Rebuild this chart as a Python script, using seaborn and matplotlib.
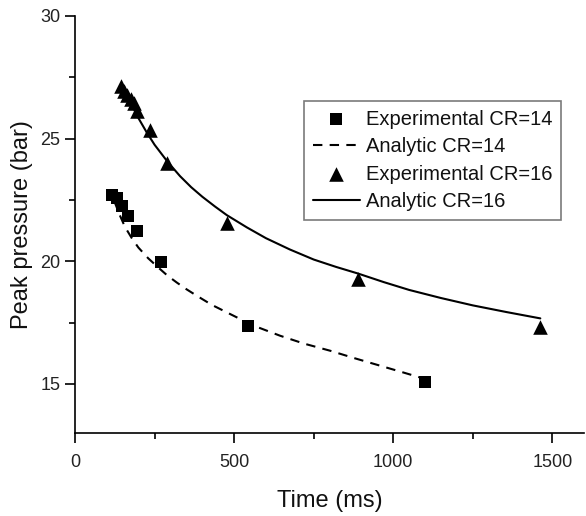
import pandas as pd
import matplotlib.pyplot as plt
import seaborn as sns
from matplotlib.ticker import MultipleLocator

# valores
exp14_t = [115, 131, 147, 168, 194, 270, 544, 1100]
exp14_p = [22.72, 22.59, 22.25, 21.84, 21.23, 19.95, 17.36, 15.08]

ana14_t = [122, 140, 157, 178, 199, 230, 262, 290, 320, 350, 383, 430, 487, 560, 645, 720,
           802, 880, 959, 1030, 1100]
ana14_p = [22.5, 21.9, 21.4, 20.95, 20.56, 20.12, 19.74, 19.42, 19.13, 18.86, 18.59, 18.22,
           17.85, 17.38, 16.96, 16.64, 16.35, 16.04, 15.74, 15.47, 15.2]

exp16_t = [144, 154, 164, 175, 186, 196, 236, 288, 477, 889, 1462]
exp16_p = [27.13, 26.96, 26.79, 26.61, 26.45, 26.11, 25.37, 24.01, 21.57, 19.27, 17.32]

ana16_t = [160, 180, 200, 225, 250, 290, 330, 365, 400, 440, 477, 540, 600, 675, 750, 820,
           889, 970, 1050, 1150, 1250, 1355, 1462]
ana16_p = [26.9, 26.33, 25.82, 25.26, 24.75, 24.07, 23.47, 23.02, 22.63, 22.23, 21.88, 21.38,
           20.94, 20.48, 20.07, 19.77, 19.5, 19.15, 18.83, 18.5, 18.2, 17.93, 17.67]

exp14 = pd.DataFrame({'t': exp14_t, 'p': exp14_p})
ana14 = pd.DataFrame({'t': ana14_t, 'p': ana14_p})
exp16 = pd.DataFrame({'t': exp16_t, 'p': exp16_p})
ana16 = pd.DataFrame({'t': ana16_t, 'p': ana16_p})

sns.set_style('ticks')
plt.rcParams['font.family'] = ['Liberation Sans', 'DejaVu Sans']
plt.rcParams['text.color'] = '#111111'
plt.rcParams['axes.labelcolor'] = '#111111'
plt.rcParams['xtick.color'] = 'black'
plt.rcParams['ytick.color'] = 'black'
plt.rcParams['xtick.labelcolor'] = '#222222'
plt.rcParams['ytick.labelcolor'] = '#222222'

fig = plt.figure(figsize=(5.86, 5.16), dpi=100)
ax = fig.add_axes([0.128, 0.161, 0.869, 0.808])

sns.scatterplot(x='t', y='p', data=exp14, marker='s', color='black', s=70,
                linewidth=0, label='Experimental CR=14', ax=ax)
sns.lineplot(x='t', y='p', data=ana14, color='black', linewidth=1.5,
             linestyle=(0, (4.5, 3.5)), estimator=None, label='Analytic CR=14', ax=ax)
sns.scatterplot(x='t', y='p', data=exp16, marker='^', color='black', s=110,
                linewidth=0, label='Experimental CR=16', ax=ax)
sns.lineplot(x='t', y='p', data=ana16, color='black', linewidth=1.5,
             estimator=None, label='Analytic CR=16', ax=ax)

ax.set_xlim(0, 1600)
ax.set_ylim(13, 30)
ax.xaxis.set_major_locator(MultipleLocator(500))
ax.xaxis.set_minor_locator(MultipleLocator(250))
ax.yaxis.set_major_locator(MultipleLocator(5))
ax.yaxis.set_minor_locator(MultipleLocator(2.5))
ax.tick_params(which='major', length=7, width=1.2, labelsize=13)
ax.tick_params(axis='x', which='major', pad=8)
ax.tick_params(which='minor', length=4, width=1.2)
for s in ['left', 'bottom']:
    ax.spines[s].set_linewidth(1.2)
    ax.spines[s].set_color('black')
sns.despine(ax=ax)

ax.set_xlabel('Time (ms)', fontsize=17, labelpad=14)
ax.set_ylabel('Peak pressure (bar)', fontsize=17, labelpad=5)

leg = ax.legend(loc='upper left', bbox_to_anchor=(0.519, 0.805),
                bbox_transform=fig.transFigure, borderaxespad=0, fontsize=14.5,
                frameon=True, fancybox=False, handlelength=2.3, handletextpad=0.3,
                labelspacing=0.42, borderpad=0.45)
leg.get_frame().set_edgecolor('0.35')
leg.get_frame().set_linewidth(1.2)

plt.savefig('out.png', dpi=100)
